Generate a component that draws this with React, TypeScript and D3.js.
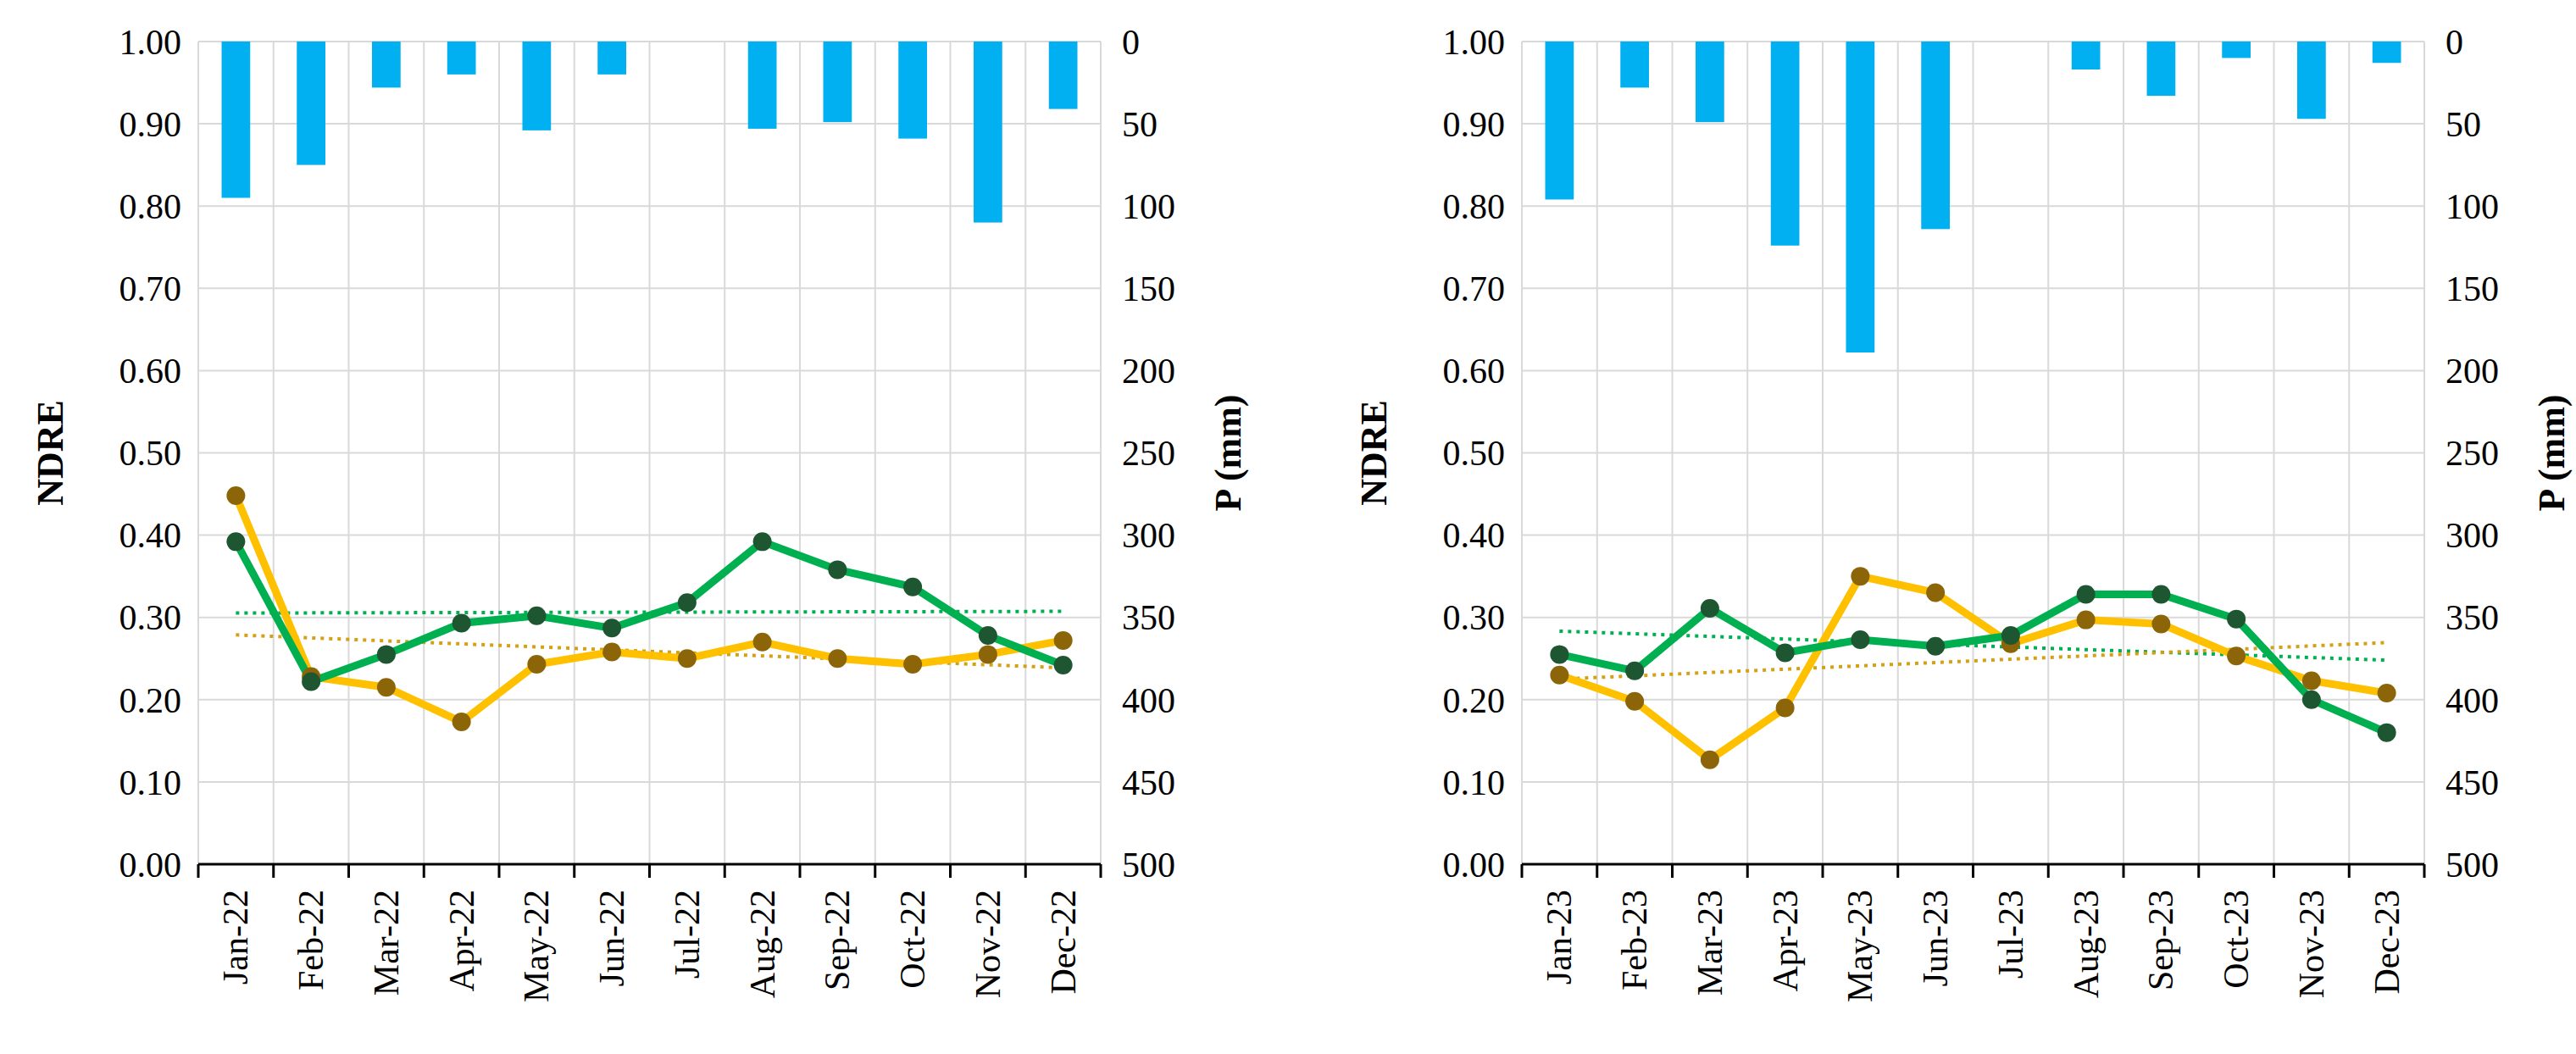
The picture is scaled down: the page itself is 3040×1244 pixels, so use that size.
import React from "react";
import * as d3 from "d3";

const months22 = ["Jan-22","Feb-22","Mar-22","Apr-22","May-22","Jun-22","Jul-22","Aug-22","Sep-22","Oct-22","Nov-22","Dec-22"];
const months23 = ["Jan-23","Feb-23","Mar-23","Apr-23","May-23","Jun-23","Jul-23","Aug-23","Sep-23","Oct-23","Nov-23","Dec-23"];
const precip22 = [95, 75, 28, 20, 54, 20, 0, 53, 49, 59, 110, 41];
const precip23 = [96, 28, 49, 124, 189, 114, 0, 17, 33, 10, 47, 13];
const yellow22 = [0.448, 0.228, 0.215, 0.173, 0.243, 0.258, 0.250, 0.270, 0.250, 0.243, 0.255, 0.272];
const green22 = [0.392, 0.222, 0.255, 0.293, 0.302, 0.287, 0.318, 0.392, 0.358, 0.337, 0.278, 0.242];
const yellow23 = [0.230, 0.198, 0.127, 0.190, 0.350, 0.330, 0.268, 0.297, 0.292, 0.253, 0.223, 0.208];
const green23 = [0.255, 0.235, 0.311, 0.257, 0.273, 0.265, 0.278, 0.328, 0.328, 0.298, 0.200, 0.160];
const leftTicks = [0, 0.1, 0.2, 0.3, 0.4, 0.5, 0.6, 0.7, 0.8, 0.9, 1.0];
const rightTicks = [0, 50, 100, 150, 200, 250, 300, 350, 400, 450, 500];

const FONT = "'Liberation Serif', 'Times New Roman', serif";

function trend(v: number[]) {
  const n = v.length;
  const xm = d3.mean(v.map((_, i) => i))!;
  const ym = d3.mean(v)!;
  let num = 0, den = 0;
  v.forEach((y, i) => { num += (i - xm) * (y - ym); den += (i - xm) ** 2; });
  const b = num / den;
  const a = ym - b * xm;
  return [a, a + b * (n - 1)];
}

function Panel({ x0, months, precip, yellow, green }: any) {
  const W = 1065, top = 49, bottom = 1020;
  const x = d3.scaleBand().domain(months).range([x0, x0 + W]);
  const y = d3.scaleLinear().domain([0, 1]).range([bottom, top]);
  const yp = d3.scaleLinear().domain([0, 500]).range([top, bottom]);
  const cx = (m: string) => x(m)! + x.bandwidth() / 2;
  const line = (vals: number[]) =>
    d3.line<number>().x((_, i) => cx(months[i])).y((d) => y(d))(vals)!;
  const ty = trend(yellow), tg = trend(green);
  const first = cx(months[0]), last = cx(months[11]);
  const bw = x.bandwidth() * 0.38;
  return (
    <g fontFamily={FONT}>
      {leftTicks.map((t) => (
        <line key={"h" + t} x1={x0} x2={x0 + W} y1={y(t)} y2={y(t)} stroke="#d9d9d9" strokeWidth={2} />
      ))}
      {d3.range(13).map((i) => (
        <line key={"v" + i} x1={x0 + i * x.step()} x2={x0 + i * x.step()} y1={top} y2={bottom} stroke="#d9d9d9" strokeWidth={2} />
      ))}
      {precip.map((p: number, i: number) => (
        <rect key={"b" + i} x={cx(months[i]) - bw / 2} y={top} width={bw} height={yp(p) - top} fill="#00B0F0" />
      ))}
      <line x1={first} x2={last} y1={y(tg[0])} y2={y(tg[1])} stroke="#00B050" strokeWidth={4} strokeDasharray="4 6" />
      <line x1={first} x2={last} y1={y(ty[0])} y2={y(ty[1])} stroke="#D4A017" strokeWidth={4} strokeDasharray="4 6" />
      <path d={line(yellow)} fill="none" stroke="#FFC000" strokeWidth={9} />
      <path d={line(green)} fill="none" stroke="#00B050" strokeWidth={9} />
      {yellow.map((v: number, i: number) => (
        <circle key={"yc" + i} cx={cx(months[i])} cy={y(v)} r={11} fill="#8B6508" />
      ))}
      {green.map((v: number, i: number) => (
        <circle key={"gc" + i} cx={cx(months[i])} cy={y(v)} r={11} fill="#1E5631" />
      ))}
      <line x1={x0} x2={x0 + W} y1={bottom} y2={bottom} stroke="#000" strokeWidth={3} />
      {d3.range(13).map((i) => (
        <line key={"t" + i} x1={x0 + i * x.step()} x2={x0 + i * x.step()} y1={bottom} y2={bottom + 16} stroke="#000" strokeWidth={3} />
      ))}
      {leftTicks.map((t) => (
        <text key={"lt" + t} x={x0 - 20} y={y(t)} dy="0.35em" textAnchor="end" fontSize={42}>{t.toFixed(2)}</text>
      ))}
      {rightTicks.map((t) => (
        <text key={"rt" + t} x={x0 + W + 25} y={yp(t)} dy="0.35em" textAnchor="start" fontSize={42}>{t}</text>
      ))}
      {months.map((m: string) => (
        <text key={m} transform={`translate(${cx(m) + 14},${bottom + 30}) rotate(-90)`} textAnchor="end" fontSize={42}>{m}</text>
      ))}
      <text transform={`translate(${x0 - 160},${(top + bottom) / 2}) rotate(-90)`} textAnchor="middle" fontSize={44} fontWeight="bold">NDRE</text>
      <text transform={`translate(${x0 + W + 165},${(top + bottom) / 2}) rotate(-90)`} textAnchor="middle" fontSize={44} fontWeight="bold">P (mm)</text>
    </g>
  );
}

export default function App() {
  return (
    <svg width={3040} height={1244} style={{ display: "block", position: "absolute", left: 0, top: 0, background: "#fff" }}>
      <rect width={3040} height={1244} fill="#fff" />
      <Panel x0={234} months={months22} precip={precip22} yellow={yellow22} green={green22} />
      <Panel x0={1796} months={months23} precip={precip23} yellow={yellow23} green={green23} />
    </svg>
  );
}
